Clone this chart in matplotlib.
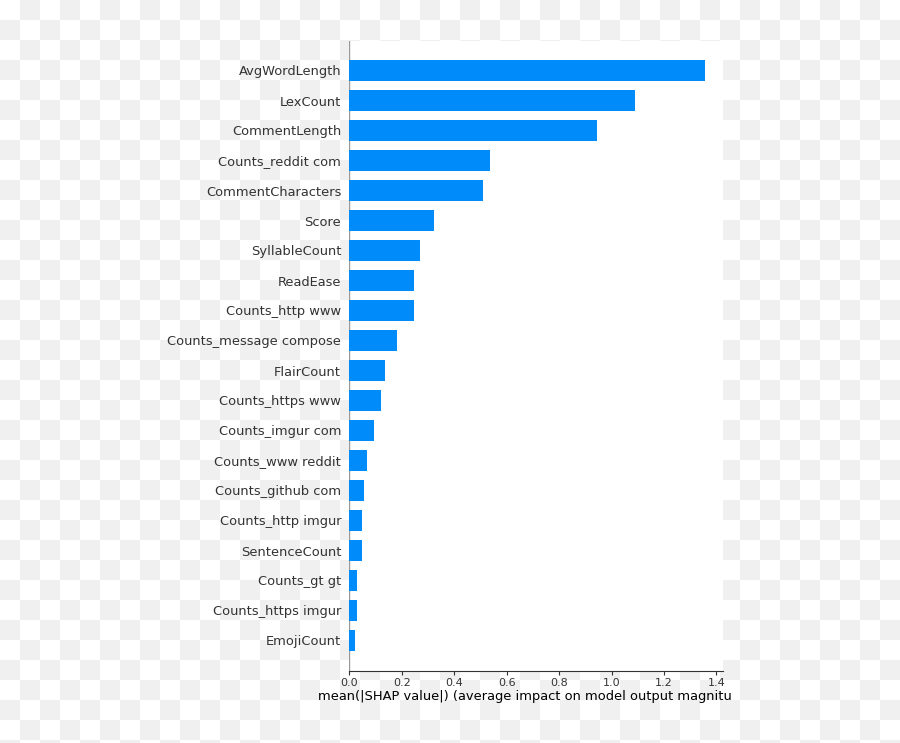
import matplotlib
matplotlib.use("Agg")
import matplotlib.pyplot as plt
import numpy as np
from matplotlib.transforms import Bbox, TransformedBbox

# features, most important first
features = [
    "AvgWordLength", "LexCount", "CommentLength", "Counts_reddit com",
    "CommentCharacters", "Score", "SyllableCount", "ReadEase",
    "Counts_http www", "Counts_message compose", "FlairCount",
    "Counts_https www", "Counts_imgur com", "Counts_www reddit",
    "Counts_github com", "Counts_http imgur", "SentenceCount",
    "Counts_gt gt", "Counts_https imgur", "EmojiCount",
]
mean_shap = [
    1.356, 1.089, 0.945, 0.538, 0.511, 0.324, 0.270, 0.247,
    0.246, 0.182, 0.137, 0.121, 0.094, 0.068, 0.056, 0.049,
    0.048, 0.029, 0.028, 0.022,
]
xticks = [0.0, 0.2, 0.4, 0.6, 0.8, 1.0, 1.2, 1.4]
xlabel = "mean(|SHAP value|) (average impact on model output magnitude)"

blue = "#008bfb"
axis_color = "#333333"

W, H = 900, 743
fig = plt.figure(figsize=(W / 100, H / 100), dpi=100)

# transparent-looking checkerboard behind everything
bg = fig.add_axes([0, 0, 1, 1], zorder=-10)
yy, xx = np.indices((H, W)) // 20
checker = np.where((yy + xx) % 2 == 1, 240, 255).astype(np.uint8)
bg.imshow(np.dstack([checker] * 3), aspect="auto", interpolation="nearest")
bg.axis("off")

x0, x1 = 349.3, 722.7
top, bot = 40.5, 670.5
ax = fig.add_axes([x0 / W, (H - bot) / H, (x1 - x0) / W, (bot - top) / H])
ax.set_facecolor("white")

n = len(features)
ypos = np.arange(n)[::-1]
ax.barh(ypos, mean_shap, height=0.7, color=blue, align="center")
ax.axvline(0, color="#999999", linewidth=1, zorder=-1)

ax.set_ylim(-1, n)
ax.set_xlim(0, max(mean_shap) * 1.05)
ax.set_yticks(ypos)
ax.set_yticklabels(features, fontsize=9.35, color=axis_color)
ax.set_xticks(xticks)
ax.set_xticklabels([f"{t:.1f}" for t in xticks])

ax.spines["right"].set_visible(False)
ax.spines["top"].set_visible(False)
ax.spines["left"].set_visible(False)
ax.spines["bottom"].set_color(axis_color)
ax.tick_params(axis="y", length=0, pad=5.8)
ax.tick_params(axis="x", color=axis_color, labelcolor=axis_color,
               labelsize=8.0, length=2.7, pad=2.5)

lab = ax.set_xlabel(xlabel, fontsize=9.35, labelpad=1.5)
clip = TransformedBbox(Bbox([[0, 0], [732 / W, 1]]), fig.transFigure)
lab.set_clip_box(clip)
lab.set_clip_on(True)

fig.savefig("out.png", dpi=100)
